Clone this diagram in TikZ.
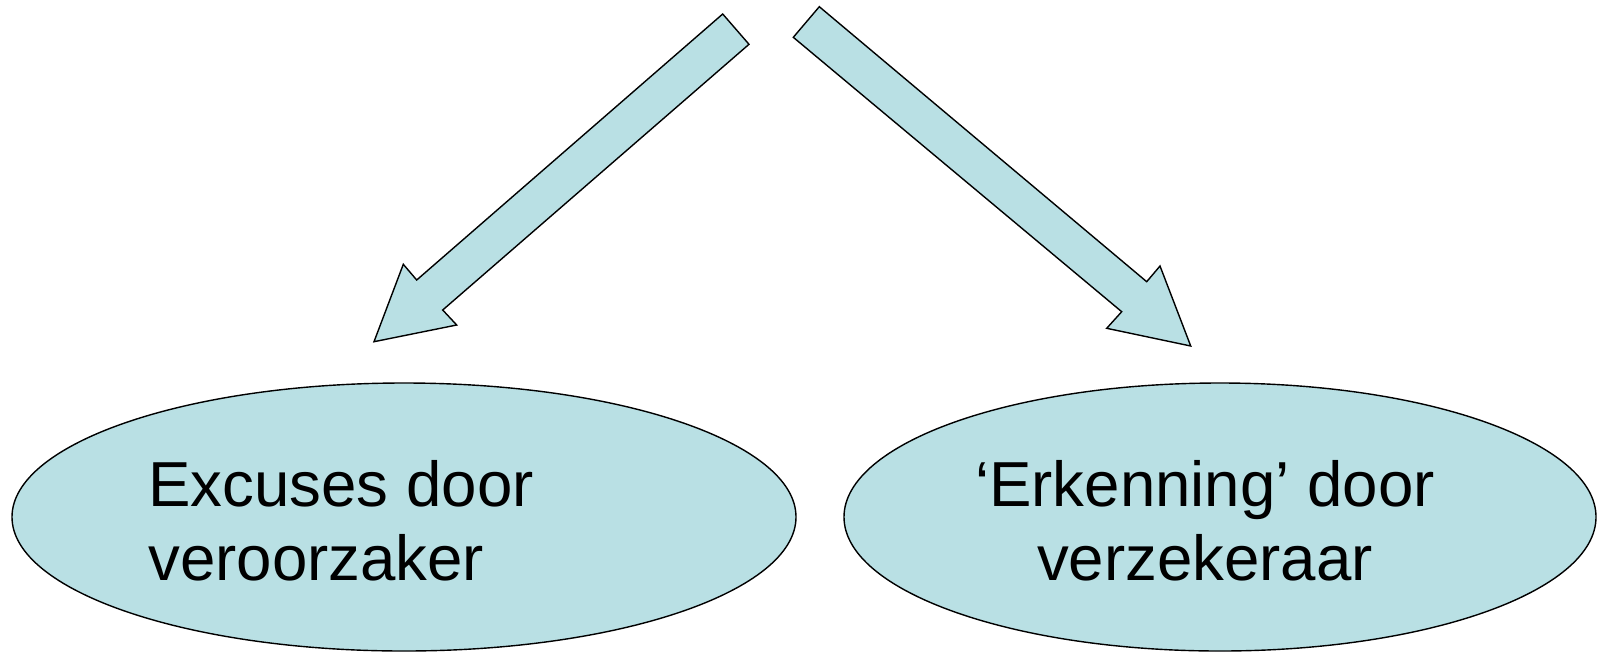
\documentclass[tikz,border=0pt]{standalone}
\usepackage{fontspec}
\setmainfont{Liberation Sans}
\usetikzlibrary{shapes.geometric}
\definecolor{paleteal}{RGB}{185,224,228}
\tikzset{
  bubble/.style={ellipse, draw=black, fill=paleteal, line width=0.7pt, inner sep=0pt},
  blockarrow/.style={draw=black, fill=paleteal, line width=0.7pt, line join=miter},
  caption/.style={inner sep=0pt, font=\fontsize{31.8pt}{36.7pt}\selectfont}
}
\begin{document}
\begin{tikzpicture}[x=0.5pt, y=-0.5pt]
  \useasboundingbox (0,0) rectangle (1600,654);

  % the two outcome ellipses
  \node[bubble, minimum width=392pt, minimum height=134pt] (left) at (404,517) {};
  \node[bubble, minimum width=376pt, minimum height=134pt] (right) at (1220,517) {};

  % labels (base anchor sits on the last line's baseline)
  \node[caption, anchor=base west, align=left] (ltext) at (148,580)
    {Excuses door\\veroorzaker};
  \node[caption, anchor=base, align=center] (rtext) at (1205,580)
    {‘Erkenning’ door\\verzekeraar};

  % block arrow pointing down-left
  \draw[blockarrow] (722.7,14) -- (749,44.3) -- (442.7,310) -- (456.7,325)
    -- (374,341.7) -- (403.3,264.3) -- (416.7,280) -- cycle;

  % block arrow pointing down-right
  \draw[blockarrow] (819.3,6.7) -- (1146.7,281.7) -- (1160,266) -- (1190.7,346)
    -- (1106.7,328.3) -- (1121.7,311.7) -- (793.3,37.3) -- cycle;
\end{tikzpicture}
\end{document}
